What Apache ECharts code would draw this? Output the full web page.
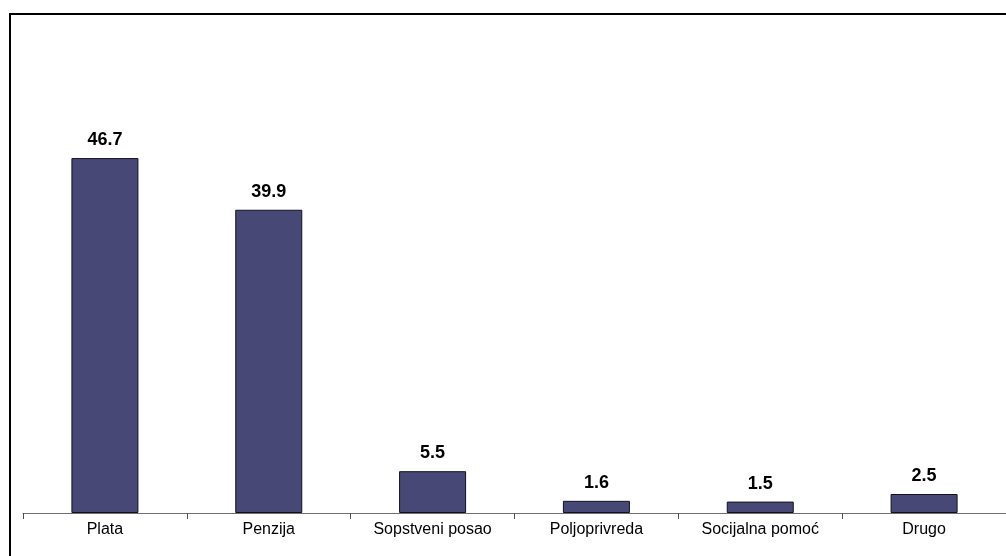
<!DOCTYPE html>
<html>
<head>
<meta charset="utf-8">
<script src="https://cdn.jsdelivr.net/npm/echarts@6/dist/echarts.min.js"></script>
<style>
  html, body { margin: 0; padding: 0; background: #fff; }
  #frame { position: absolute; left: 9px; top: 13px; width: 1010px; height: 560px;
           border-left: 2px solid #000; border-top: 2px solid #000; box-sizing: border-box; }
  #chart { position: absolute; left: 0; top: 0; width: 1006px; height: 556px; }
</style>
</head>
<body>
<div id="frame"></div>
<div id="chart"></div>
<script>
// Main income source, share in percent
const categories = ['Plata', 'Penzija', 'Sopstveni posao', 'Poljoprivreda', 'Socijalna pomoć', 'Drugo'];
const values = [46.7, 39.9, 5.5, 1.6, 1.5, 2.5];

const chart = echarts.init(document.getElementById('chart'), null, { renderer: 'canvas' });
chart.setOption({
  animation: false,
  backgroundColor: 'transparent',
  grid: { left: 23, right: -2, top: 57, bottom: 43, containLabel: false },
  xAxis: {
    type: 'category',
    data: categories,
    axisLine: { show: true, lineStyle: { color: '#707070', width: 1 } },
    axisTick: { show: true, alignWithLabel: false, length: 6, lineStyle: { color: '#505050' } },
    axisLabel: { color: '#000', fontFamily: 'Liberation Sans, Arial, sans-serif', fontSize: 16, margin: 9 }
  },
  yAxis: {
    type: 'value',
    min: 0,
    max: 60,
    show: false,
    splitLine: { show: false }
  },
  series: [{
    type: 'bar',
    data: values,
    barWidth: 67,
    itemStyle: { color: '#474876', borderColor: '#111122', borderWidth: 1 },
    label: {
      show: true,
      position: 'top',
      distance: 9,
      color: '#000',
      fontWeight: 'bold',
      fontSize: 18,
      fontFamily: 'Liberation Sans, Arial, sans-serif',
      formatter: p => p.value.toFixed(1)
    }
  }]
});
</script>
</body>
</html>
